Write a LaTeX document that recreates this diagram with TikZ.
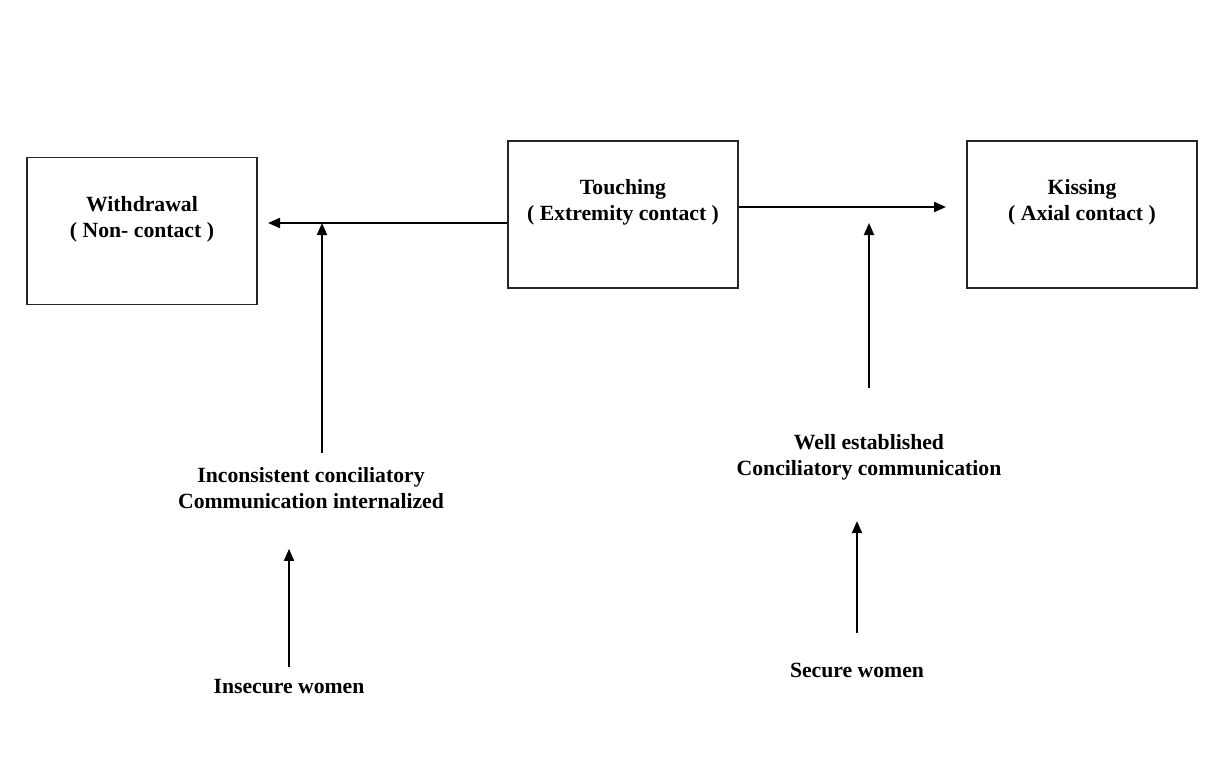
\documentclass[tikz,border=0pt]{standalone}
\usepackage{fontspec}
\setmainfont{Liberation Serif}
\usetikzlibrary{arrows.meta}
\begin{document}
\begin{tikzpicture}[x=1pt,y=-1pt,
  statebox/.style={draw=black!85,line width=1.6pt,minimum width=230pt,minimum height=147pt,inner sep=0pt},
  lbl/.style={font=\fontsize{21.7}{26}\selectfont\bfseries,align=center,inner sep=0pt},
  arr/.style={line width=2pt,-{Triangle[length=12pt,width=10pt]}}]
\useasboundingbox (0,0) rectangle (1212,765);
\fill[white] (0,0) rectangle (1212,765);
% three contact states
\node[statebox] (wbox) at (142,231) {};
\node[statebox] (tbox) at (623,214.5) {};
\node[statebox] (kbox) at (1082,214.5) {};
\node[lbl] (wtxt) at (142,219) {Withdrawal\\( Non- contact )};
\node[lbl] (ttxt) at (623,202) {Touching\\( Extremity contact )};
\node[lbl] (ktxt) at (1082,202) {Kissing\\( Axial contact )};
% mediating communication and attachment labels
\node[lbl] (incons) at (311,488) {Inconsistent conciliatory\\Communication internalized};
\node[lbl,anchor=base] (insec) at (289,693) {Insecure women};
\node[lbl] (well) at (869,457) {Well established\\Conciliatory communication};
\node[lbl,anchor=base] (secure) at (857,677) {Secure women};
% junction points on the horizontal connectors
\coordinate (ltip) at (268,223);
\coordinate (lj) at (322,223);
\coordinate (rtip) at (946,207);
\coordinate (rj) at (869,223);
% horizontal connectors
\draw[arr] (tbox.west |- ltip) -- (ltip);
\draw[arr] (tbox.east |- rtip) -- (rtip);
% vertical influences
\draw[arr] ([yshift=14pt]incons.north -| lj) -- (lj);
\draw[arr] ([yshift=46pt]well.north -| rj) -- (rj);
\draw[arr] ([yshift=12pt]insec.north) -- ([yshift=-40pt]incons.south -| insec.north);
\draw[arr] ([yshift=29pt]secure.north) -- ([yshift=-41pt]well.south -| secure.north);
\end{tikzpicture}
\end{document}
